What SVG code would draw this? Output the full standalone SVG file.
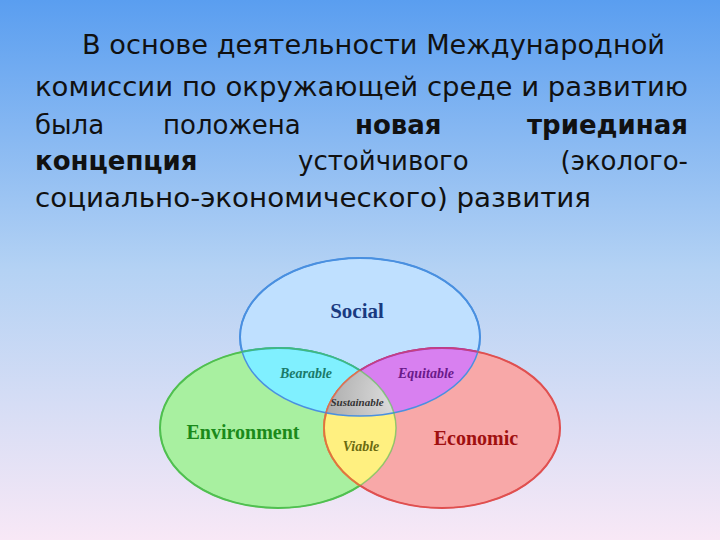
<svg xmlns="http://www.w3.org/2000/svg" width="720" height="540" viewBox="0 0 720 540">
<defs>
<linearGradient id="bg" x1="0" y1="0" x2="0" y2="1"><stop offset="0" stop-color="#5a9ef0"/><stop offset="0.5" stop-color="#b4d2f4"/><stop offset="1" stop-color="#f8e8f6"/></linearGradient>
<radialGradient id="gr" cx="0.5" cy="0.3" r="0.7"><stop offset="0" stop-color="#ffffff"/><stop offset="1" stop-color="#8a8a8a"/></radialGradient>
<clipPath id="cS"><ellipse cx="360" cy="337" rx="120" ry="79"/></clipPath>
<clipPath id="cE"><ellipse cx="278" cy="428" rx="118" ry="80"/></clipPath>
<style>
.t{font-family:"DejaVu Sans",Verdana,sans-serif;font-size:26px;fill:#111}
.b{font-weight:bold}
.l{font-family:"Liberation Serif",serif;font-weight:bold}
</style>
</defs>
<rect width="720" height="540" fill="url(#bg)"/>
<g id="title">
<text class="t" x="82" y="54" textLength="583" lengthAdjust="spacingAndGlyphs">В основе деятельности Международной</text>
<text class="t" x="35" y="96" textLength="653" lengthAdjust="spacingAndGlyphs">комиссии по окружающей среде и развитию</text>
<text class="t" x="35" y="134">была</text>
<text class="t" x="163" y="134">положена</text>
<text class="t b" x="355" y="134">новая</text>
<text class="t b" x="688" y="134" text-anchor="end">триединая</text>
<text class="t b" x="35" y="170">концепция</text>
<text class="t" x="298" y="170">устойчивого</text>
<text class="t" x="688" y="170" text-anchor="end">(эколого-</text>
<text class="t" x="35" y="207" textLength="556" lengthAdjust="spacingAndGlyphs">социально-экономического) развития</text>
</g>
<g id="venn">
<g id="social"><ellipse cx="360" cy="337" rx="120" ry="79" fill="#bfe0ff" stroke="#4a90e0" stroke-width="2"/></g>
<g id="environment"><ellipse cx="278" cy="428" rx="118" ry="80" fill="#a8f0a0" stroke="#50c050" stroke-width="2"/></g>
<g id="economic"><ellipse cx="442" cy="428" rx="118" ry="80" fill="#f8a8a8" stroke="#e05050" stroke-width="2"/></g>
<g id="bearable"><ellipse cx="278" cy="428" rx="118" ry="80" fill="#80f0ff" stroke="#30b0c0" stroke-width="2" clip-path="url(#cS)"/></g>
<g id="equitable"><ellipse cx="442" cy="428" rx="118" ry="80" fill="#d880f0" stroke="#a030c0" stroke-width="2" clip-path="url(#cS)"/></g>
<g id="viable"><ellipse cx="442" cy="428" rx="118" ry="80" fill="#fff080" stroke="#e0a030" stroke-width="2" clip-path="url(#cE)"/></g>
<g id="sustainable" clip-path="url(#cS)"><ellipse cx="442" cy="428" rx="118" ry="80" fill="url(#gr)" clip-path="url(#cE)"/></g>
<ellipse cx="360" cy="337" rx="120" ry="79" fill="none" stroke="#4a90e0" stroke-width="1.5"/>
<ellipse cx="278" cy="428" rx="118" ry="80" fill="none" stroke="#50c050" stroke-width="1.5" opacity="0.6"/>
<ellipse cx="442" cy="428" rx="118" ry="80" fill="none" stroke="#e05050" stroke-width="1.5" opacity="0.6"/>
<text class="l" x="357" y="318" font-size="21" fill="#1a3a80" text-anchor="middle">Social</text>
<text class="l" x="243" y="439" font-size="20" fill="#1a8a1a" text-anchor="middle">Environment</text>
<text class="l" x="476" y="445" font-size="20" fill="#a01010" text-anchor="middle">Economic</text>
<text class="l" x="306" y="378" font-size="14" font-style="italic" fill="#1a7a6a" text-anchor="middle">Bearable</text>
<text class="l" x="426" y="378" font-size="14" font-style="italic" fill="#6a1a8a" text-anchor="middle">Equitable</text>
<text class="l" x="361" y="451" font-size="14" font-style="italic" fill="#6a6a10" text-anchor="middle">Viable</text>
<text class="l" x="357" y="406" font-size="11" font-style="italic" fill="#333" text-anchor="middle">Sustainable</text>
</g>
</svg>
